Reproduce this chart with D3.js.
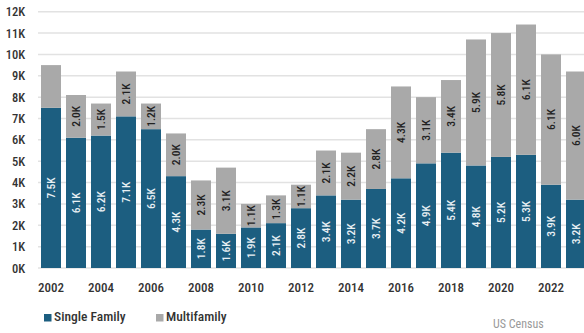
<!DOCTYPE html>
<html>
<head>
<meta charset="utf-8">
<script src="https://cdn.jsdelivr.net/npm/d3@7"></script>
<style>
  html, body { margin: 0; padding: 0; background: #fff; }
  svg { display: block; }
  text { font-family: "Roboto", sans-serif; font-stretch: condensed; }
</style>
</head>
<body>
<svg id="chart" width="584" height="333"></svg>
<script>
const years = [2002, 2003, 2004, 2005, 2006, 2007, 2008, 2009, 2010, 2011, 2012,
               2013, 2014, 2015, 2016, 2017, 2018, 2019, 2020, 2021, 2022, 2023];
const singleFamily = [7.5, 6.1, 6.2, 7.1, 6.5, 4.3, 1.8, 1.6, 1.9, 2.1, 2.8,
                      3.4, 3.2, 3.7, 4.2, 4.9, 5.4, 4.8, 5.2, 5.3, 3.9, 3.2];
const multifamily  = [2.0, 2.0, 1.5, 2.1, 1.2, 2.0, 2.3, 3.1, 1.1, 1.3, 1.1,
                      2.1, 2.2, 2.8, 4.3, 3.1, 3.4, 5.9, 5.8, 6.1, 6.1, 6.0];
const hiddenLabels = ["2002-multi"];
const yTicks = [0, 1, 2, 3, 4, 5, 6, 7, 8, 9, 10, 11, 12];
const xTickYears = [2002, 2004, 2006, 2008, 2010, 2012, 2014, 2016, 2018, 2020, 2022];
const seriesNames = ["Single Family", "Multifamily"];
const source = "US Census";

const colors = { "Single Family": "#1c5e80", "Multifamily": "#a9a9a9" };

const svg = d3.select("#chart");

const x = d3.scaleBand().domain(years).range([38.5, 588.5]).paddingInner(0.2).paddingOuter(0.1);
const y = d3.scaleLinear().domain([0, 12]).range([268, 11.7]);

// gridlines
svg.append("g").selectAll("line").data(yTicks).join("line")
  .attr("x1", 38).attr("x2", 584)
  .attr("y1", d => y(d)).attr("y2", d => y(d))
  .attr("stroke", "#e2e2e2").attr("stroke-width", 1.5);

// y labels
svg.append("g").selectAll("text").data(yTicks).join("text")
  .attr("x", 25).attr("y", d => y(d)).attr("dy", "0.36em")
  .attr("text-anchor", "end").attr("font-size", 12.5).attr("font-weight", 500).attr("fill", "#333")
  .text(d => d + "K");

const rows = years.map((yr, i) => ({ year: yr, "Single Family": singleFamily[i], "Multifamily": multifamily[i] }));
const stacked = d3.stack().keys(seriesNames)(rows);

const g = svg.append("g");
stacked.forEach(layer => {
  const key = layer.key;
  g.append("g").selectAll("rect").data(layer).join("rect")
    .attr("x", d => x(d.data.year))
    .attr("width", x.bandwidth())
    .attr("y", d => y(d[1]))
    .attr("height", d => y(d[0]) - y(d[1]))
    .attr("fill", colors[key]);

  g.append("g").selectAll("text")
    .data(layer.filter(d => !hiddenLabels.includes(d.data.year + (key === "Multifamily" ? "-multi" : "-single"))))
    .join("text")
    .attr("transform", d => {
      const cx = x(d.data.year) + x.bandwidth() / 2;
      const cy = (y(d[0]) + y(d[1])) / 2;
      return `translate(${cx},${cy}) rotate(-90)`;
    })
    .attr("text-anchor", "middle").attr("dy", "0.36em")
    .attr("font-size", 11.5).attr("font-weight", 500)
    .attr("fill", key === "Single Family" ? "#e9f0f4" : "#222")
    .text(d => d3.format(".1f")(d.data[key]) + "K");
});

// x labels
svg.append("g").selectAll("text").data(xTickYears).join("text")
  .attr("x", d => x(d) + x.bandwidth() / 2).attr("y", 292)
  .attr("text-anchor", "middle").attr("font-size", 13).attr("font-weight", 500).attr("fill", "#333")
  .text(d => d);

// legend
const legendX = [44, 156];
const leg = svg.append("g");
seriesNames.forEach((name, i) => {
  leg.append("rect").attr("x", legendX[i]).attr("y", 314).attr("width", 7.5).attr("height", 7.5)
    .attr("fill", colors[name]);
  leg.append("text").attr("x", legendX[i] + 10).attr("y", 321)
    .attr("font-size", 13.5).attr("font-weight", 500).attr("fill", "#333").text(name);
});

svg.append("text").attr("x", 493).attr("y", 327.5)
  .attr("font-size", 12).attr("fill", "#9a9a9a").text(source);
</script>
</body>
</html>
